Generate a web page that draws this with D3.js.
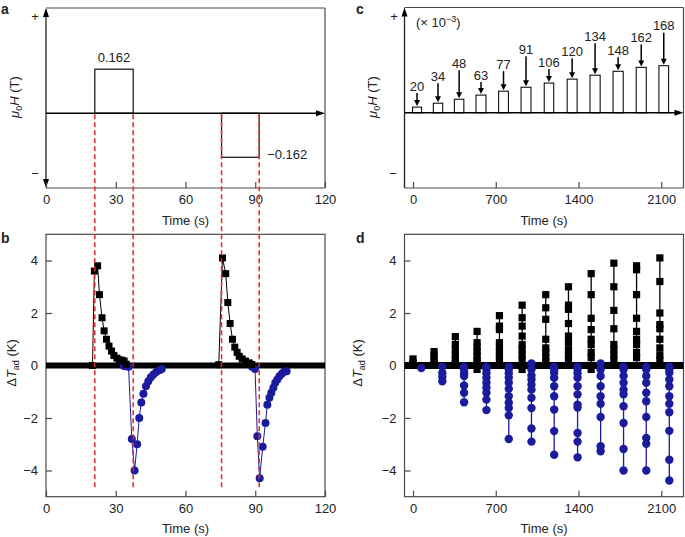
<!DOCTYPE html>
<html><head><meta charset="utf-8">
<script src="https://cdn.jsdelivr.net/npm/d3@7"></script>
<style>body{margin:0;background:#fff}</style>
</head><body><svg id="fig" width="685" height="537"></svg>
<script>
// ---------------- DATA ----------------
// panel a: field pulses (start s, end s, value T)
const pulseStartA = [21, 75.5];
const pulseEndA = [37.5, 91.7];
const pulseFieldA = [0.162, -0.162];
const pulseLabelA = ["0.162", "\u22120.162"];
const timeTicksAB = [0, 30, 60, 90, 120];
const dTTicks = [-4, -2, 0, 2, 4];

// panel b: heating (black squares) and cooling (blue circles), [time s, dT K]
const heatB1 = [[20,0],[20.8,3.6],[22.2,3.8],[23,2.7],[24.1,1.82],[25,1.32],[26,1.0],[27.1,0.74],[28.2,0.55],[29.2,0.38],[30.5,0.28],[31.5,0.22],[32.7,0.2],[33.6,0.17],[34.5,0.05]];
const heatB2 = [[74.3,0.03],[75.9,4.1],[77.3,3.5],[78.2,2.4],[79.2,1.6],[80.2,1.0],[81.2,0.7],[82.2,0.5],[83.1,0.35],[84.4,0.25],[85.8,0.17],[87.4,0.1],[88.5,0.04]];
const coolB1 = [[33.5,-0.02],[34.5,-0.03],[35.5,-0.05],[36.9,-2.8],[38.1,-4.0],[39.2,-3.0],[40.1,-2.0],[41,-1.41],[41.9,-1.08],[43,-0.79],[44,-0.6],[45.1,-0.45],[46.2,-0.34],[47.4,-0.25],[48.8,-0.18],[49.8,-0.13]];
const coolB2 = [[88.6,-0.05],[89.9,-0.13],[90.9,-2.7],[91.9,-4.3],[93.2,-3.1],[94.4,-2.19],[95.2,-1.5],[96.1,-1.23],[96.9,-1.04],[97.8,-0.85],[98.6,-0.66],[99.5,-0.53],[100.4,-0.41],[101.4,-0.31],[102.4,-0.24],[103.5,-0.22]];

// panel c: field steps (x 10^-3 T), pulse start / end times (s)
const fieldC = [20, 34, 48, 63, 77, 91, 106, 120, 134, 148, 162, 168];
const pulseOnC = [-4, 172, 350, 533, 724, 914, 1110, 1304, 1497, 1692, 1888, 2080];
const pulseOffC = [72, 251, 430, 617, 807, 998, 1190, 1388, 1583, 1778, 1973, 2162];
const timeTicksCD = [0, 700, 1400, 2100];

// panel d: column times (s) and dT values (K)
const heatTimesD = [0, 178, 358, 542, 731, 923, 1123, 1315, 1507, 1699, 1891, 2088];
const coolTimesD = [70, 248, 432, 621, 810, 1002, 1194, 1392, 1587, 1781, 1973, 2168];
const heatValsD = [
  [0.25, 0.1, 0.05],
  [0.53, 0.4, 0.25, 0.1],
  [1.1, 0.8, 0.6, 0.4, 0.25, 0.1],
  [1.3, 0.87, 0.7, 0.53, 0.36, 0.2, 0.1, -0.15],
  [1.9, 1.5, 1.37, 0.87, 0.7, 0.5, 0.35, 0.2],
  [2.3, 1.82, 1.5, 1.12, 0.8, 0.6, 0.4, 0.2, -0.15],
  [2.7, 2.2, 1.76, 1.0, 0.67, 0.5, 0.3, 0.15],
  [3.0, 2.3, 2.14, 1.6, 1.12, 0.87, 0.6, 0.4, 0.2],
  [3.5, 2.7, 1.8, 1.37, 1.0, 0.8, 0.5, 0.3, -0.15],
  [3.9, 3.0, 2.1, 1.4, 0.8, 0.6, 0.4, 0.2],
  [3.8, 3.65, 2.7, 1.8, 1.3, 1.0, 0.8, 0.5, 0.3],
  [4.1, 3.2, 2.0, 1.56, 1.4, 1.0, 0.67, 0.4, 0.2]
];
const coolValsD = [
  [-0.1],
  [-0.05, -0.28, -0.43, -0.6],
  [-0.05, -0.15, -0.3, -0.4, -0.76, -1.04, -1.4],
  [-0.05, -0.15, -0.3, -0.47, -0.66, -0.85, -1.04, -1.3, -1.7],
  [-0.05, -0.15, -0.3, -0.47, -0.66, -0.89, -1.17, -1.42, -1.62, -1.9, -2.8],
  [0.08, -0.15, -0.38, -0.53, -0.73, -0.92, -1.23, -1.62, -2.4, -2.9],
  [-0.05, -0.15, -0.28, -0.47, -0.79, -1.17, -1.68, -2.5, -3.4],
  [-0.05, -0.15, -0.3, -0.47, -0.79, -1.1, -1.49, -1.6, -2.57, -2.9, -3.5],
  [0.08, -0.15, -0.4, -0.79, -1.17, -1.46, -1.96, -3.08, -3.27],
  [-0.05, -0.15, -0.4, -0.66, -0.92, -1.1, -1.55, -2.19, -3.18, -4.0],
  [-0.05, -0.15, -0.4, -0.66, -1.04, -1.36, -1.96, -2.76, -2.98, -4.0],
  [-0.05, -0.15, -0.28, -0.53, -0.79, -1.17, -1.46, -1.78, -2.49, -3.59, -4.38]
];

// ---------------- LAYOUT / STYLE ----------------
const labelRiseC = [21, 27, 36, 20, 27, 38, 21, 28, 39, 21, 30, 40];
const FONT = '"Liberation Sans", Arial, Helvetica, sans-serif';
const BOX = "#4a4a4a";
const BLUE = "#1b1b9e";
const RED = "#e8262b";
const TXT = "#222";

const svg = d3.select("#fig").attr("font-family", FONT);

const xA = d3.scaleLinear().domain([0, 120]).range([46, 325]);
const yA = d3.scaleLinear().domain([-0.275, 0.387]).range([188, 8]);
const yB = d3.scaleLinear().domain([-5, 5]).range([496.7, 234.3]);
const xC = d3.scaleLinear().domain([-72, 2288]).range([404.5, 683.5]);
const yC = d3.scaleLinear().domain([-269, 376]).range([188, 7.5]);
const yD = yB;

function tri(g, x, y, dir, len, half, color) {
  let p;
  if (dir === "up") p = `M${x},${y}L${x-half},${y+len}L${x+half},${y+len}Z`;
  else if (dir === "down") p = `M${x},${y}L${x-half},${y-len}L${x+half},${y-len}Z`;
  else p = `M${x},${y}L${x-len},${y-half}L${x-len},${y+half}Z`;
  g.append("path").attr("d", p).attr("fill", color || "#000");
}
function line(g, x1, y1, x2, y2, stroke, w, dash) {
  const l = g.append("line").attr("x1", x1).attr("y1", y1).attr("x2", x2).attr("y2", y2)
    .attr("stroke", stroke).attr("stroke-width", w);
  if (dash) l.attr("stroke-dasharray", dash);
  return l;
}
function text(g, x, y, s, size, anchor, weight) {
  return g.append("text").attr("x", x).attr("y", y).attr("font-size", size)
    .attr("text-anchor", anchor || "middle").attr("fill", TXT).attr("font-weight", weight || "normal").text(s);
}
function bottomAxis(g, x, y0, ticks) {
  const ax = g.append("g").attr("transform", `translate(0,${y0})`)
    .call(d3.axisBottom(x).tickValues(ticks).tickSize(-6).tickPadding(7).tickFormat(d3.format("d")));
  ax.select(".domain").remove();
  ax.selectAll("line").attr("stroke", BOX).attr("stroke-width", 1.2);
  ax.selectAll("text").attr("font-size", 13).attr("fill", TXT).attr("font-family", FONT);
}
function leftAxis(g, y, x0, ticks) {
  const ax = g.append("g").attr("transform", `translate(${x0},0)`)
    .call(d3.axisLeft(y).tickValues(ticks).tickSize(-6).tickPadding(8).tickFormat(d3.format("d")));
  ax.select(".domain").remove();
  ax.selectAll("line").attr("stroke", BOX).attr("stroke-width", 1.2);
  ax.selectAll("text").attr("font-size", 13).attr("fill", TXT).attr("font-family", FONT);
}
function muLabel(g, cx, cy) {
  const t = g.append("text").attr("transform", `translate(${cx},${cy}) rotate(-90)`)
    .attr("text-anchor", "middle").attr("font-size", 13).attr("fill", TXT);
  t.append("tspan").attr("font-style", "italic").text("\u03bc");
  t.append("tspan").attr("font-size", 9).attr("dy", 3).text("0");
  t.append("tspan").attr("font-style", "italic").attr("dy", -3).text("H");
  t.append("tspan").text(" (T)");
}
function dTLabel(g, cx, cy) {
  const t = g.append("text").attr("transform", `translate(${cx},${cy}) rotate(-90)`)
    .attr("text-anchor", "middle").attr("font-size", 13).attr("fill", TXT);
  t.append("tspan").text("\u0394");
  t.append("tspan").attr("font-style", "italic").text("T");
  t.append("tspan").attr("font-size", 9).attr("dy", 3).text("ad");
  t.append("tspan").attr("dy", -3).text(" (K)");
}
function squares(g, pts, x, y, s) {
  g.selectAll(null).data(pts).join("rect")
    .attr("x", d => x(d[0]) - s / 2).attr("y", d => y(d[1]) - s / 2)
    .attr("width", s).attr("height", s).attr("fill", "#000");
}
function circles(g, pts, x, y, r) {
  g.selectAll(null).data(pts).join("circle")
    .attr("cx", d => x(d[0])).attr("cy", d => y(d[1])).attr("r", r).attr("fill", BLUE);
}

// ---------------- PANEL A ----------------
const gA = svg.append("g");
{
  const [x0, x1] = xA.range(), [yb, yt] = yA.range();
  line(gA, x0, yt, x1, yt, BOX, 1.2);
  line(gA, x1, yt, x1, yb, BOX, 1.2);
  line(gA, x0, yb, x1, yb, BOX, 1.2);
  line(gA, x0, yt + 6, x0, yb - 6, "#222", 1.3);
  tri(gA, x0, yt, "up", 9, 3);
  tri(gA, x0, yb, "down", 9, 3);
  bottomAxis(gA, xA, yb, timeTicksAB);
  const z = yA(0);
  pulseStartA.forEach((s, i) => {
    const v = pulseFieldA[i];
    gA.append("rect").attr("x", xA(s)).attr("width", xA(pulseEndA[i]) - xA(s))
      .attr("y", Math.min(yA(v), z)).attr("height", Math.abs(yA(v) - z))
      .attr("fill", "none").attr("stroke", "#111").attr("stroke-width", 1.2);
  });
  line(gA, x0, z, x1 - 7, z, "#000", 1.6);
  tri(gA, x1, z, "right", 9, 3);
  text(gA, xA((pulseStartA[0] + pulseEndA[0]) / 2), yA(pulseFieldA[0]) - 7, pulseLabelA[0], 13);
  text(gA, xA(pulseEndA[1]) + 8, yA(pulseFieldA[1]) + 2, pulseLabelA[1], 13, "start");
  text(gA, 35, 20.5, "+", 13);
  text(gA, 35, 178, "\u2212", 13);
  text(gA, (x0 + x1) / 2, 224.5, "Time (s)", 13);
  muLabel(gA, 19, 97);
  text(gA, 1, 13.5, "a", 14, "start", "bold");
}

// ---------------- PANEL B ----------------
const gB = svg.append("g");
{
  const [x0, x1] = xA.range(), [yb, yt] = yB.range();
  gB.append("rect").attr("x", x0).attr("y", yt).attr("width", x1 - x0).attr("height", yb - yt)
    .attr("fill", "none").attr("stroke", BOX).attr("stroke-width", 1.2);
  leftAxis(gB, yB, x0, dTTicks);
  bottomAxis(gB, xA, yb, timeTicksAB);
  // baseline band (zero readings)
  line(gB, x0, yB(0), x1, yB(0), "#000", 6);
  const ln = d3.line().x(d => xA(d[0])).y(d => yB(d[1]));
  [coolB1, coolB2].forEach(s => gB.append("path").attr("d", ln(s)).attr("fill", "none").attr("stroke", BLUE).attr("stroke-width", 1));
  [heatB1, heatB2].forEach(s => gB.append("path").attr("d", ln(s)).attr("fill", "none").attr("stroke", "#000").attr("stroke-width", 1));
  circles(gB, coolB1.concat(coolB2), xA, yB, 4);
  squares(gB, heatB1.concat(heatB2), xA, yB, 7);
  text(gB, (x0 + x1) / 2, 532.5, "Time (s)", 13);
  dTLabel(gB, 16, 363);
  text(gB, 1, 243, "b", 14, "start", "bold");
}

// red dashed guide lines through a and b
pulseStartA.concat(pulseEndA).forEach(t => {
  line(svg, xA(t), yA(0) + 1, xA(t), 488, RED, 1.5, "5,3");
});

// ---------------- PANEL C ----------------
const gC = svg.append("g");
{
  const [x0, x1] = xC.range(), [yb, yt] = yC.range();
  line(gC, x0, yt, x1, yt, BOX, 1.2);
  line(gC, x1, yt, x1, yb, BOX, 1.2);
  line(gC, x0, yb, x1, yb, BOX, 1.2);
  line(gC, x0, yt + 6, x0, yb, "#222", 1.3);
  tri(gC, x0, yt, "up", 9, 3);
  bottomAxis(gC, xC, yb, timeTicksCD);
  const z = yC(0);
  fieldC.forEach((v, i) => {
    const xl = xC(pulseOnC[i]), xr = xC(pulseOffC[i]), top = yC(v);
    gC.append("rect").attr("x", xl).attr("width", xr - xl).attr("y", top).attr("height", z - top)
      .attr("fill", "none").attr("stroke", "#111").attr("stroke-width", 1.1);
    const cx = (xl + xr) / 2, ly = top - labelRiseC[i];
    text(gC, cx, ly + 4.6, String(v), 13);
    line(gC, cx, ly + 7, cx, top - 6, "#000", 1.5);
    tri(gC, cx, top - 1, "down", 6, 3);
  });
  line(gC, x0, z, x1 - 7, z, "#000", 1.6);
  tri(gC, x1, z, "right", 9, 3);
  const t = gC.append("text").attr("x", 416).attr("y", 26.5).attr("font-size", 13).attr("fill", TXT);
  t.append("tspan").text("(\u00d7 10");
  t.append("tspan").attr("font-size", 9).attr("dy", -5).text("\u22123");
  t.append("tspan").attr("dy", 5).text(")");
  text(gC, 394, 20.5, "+", 13);
  text(gC, 393, 178, "\u2212", 13);
  text(gC, (x0 + x1) / 2, 224.5, "Time (s)", 13);
  muLabel(gC, 377, 97);
  text(gC, 356, 13.5, "c", 14, "start", "bold");
}

// ---------------- PANEL D ----------------
const gD = svg.append("g");
{
  const [x0, x1] = xC.range(), [yb, yt] = yD.range();
  gD.append("rect").attr("x", x0).attr("y", yt).attr("width", x1 - x0).attr("height", yb - yt)
    .attr("fill", "none").attr("stroke", BOX).attr("stroke-width", 1.2);
  leftAxis(gD, yD, x0, dTTicks);
  bottomAxis(gD, xC, yb, timeTicksCD);
  line(gD, x0, yD(0), x1, yD(0), "#000", 7);
  const coolPts = [], heatPts = [];
  coolTimesD.forEach((t, i) => {
    const vals = coolValsD[i];
    line(gD, xC(t), yD(0), xC(t), yD(d3.min(vals)), BLUE, 1.3);
    vals.forEach(v => coolPts.push([t, v]));
  });
  heatTimesD.forEach((t, i) => {
    const vals = heatValsD[i];
    line(gD, xC(t), yD(0), xC(t), yD(d3.max(vals)), "#000", 1.3);
    vals.forEach(v => heatPts.push([t, v]));
  });
  circles(gD, coolPts, xC, yD, 4.2);
  squares(gD, heatPts, xC, yD, 7.2);
  text(gD, (x0 + x1) / 2, 532.5, "Time (s)", 13);
  dTLabel(gD, 362, 363);
  text(gD, 356, 243, "d", 14, "start", "bold");
}
</script></body></html>
